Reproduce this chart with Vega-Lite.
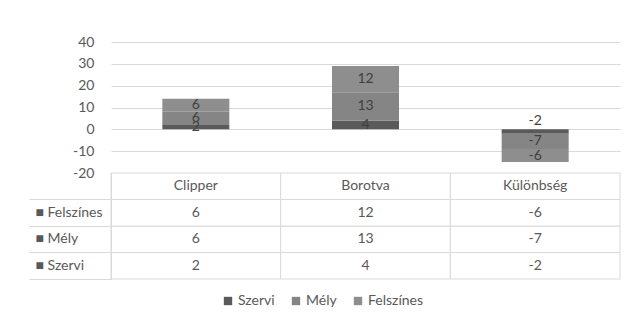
{
  "$schema": "https://vega.github.io/schema/vega-lite/v6.json",
  "background": "white",
  "padding": {"left": 28, "top": 35, "right": 5, "bottom": 5},
  "bounds": "flush",
  "spacing": 0,
  "config": {
    "font": "Lato",
    "view": {"stroke": null},
    "axis": {"labelFont": "Lato", "labelFontSize": 14, "labelColor": "#595959"},
    "legend": {"labelFont": "Lato", "labelFontSize": 14, "labelColor": "#595959"}
  },
  "datasets": {
    "d": [
      {"cat": "Clipper", "series": "Szervi", "k": 1, "value": 2},
      {"cat": "Clipper", "series": "Mély", "k": 2, "value": 6},
      {"cat": "Clipper", "series": "Felszínes", "k": 3, "value": 6},
      {"cat": "Borotva", "series": "Szervi", "k": 1, "value": 4},
      {"cat": "Borotva", "series": "Mély", "k": 2, "value": 13},
      {"cat": "Borotva", "series": "Felszínes", "k": 3, "value": 12},
      {"cat": "Különbség", "series": "Szervi", "k": 1, "value": -2},
      {"cat": "Különbség", "series": "Mély", "k": 2, "value": -7},
      {"cat": "Különbség", "series": "Felszínes", "k": 3, "value": -6}
    ]
  },
  "vconcat": [
    {
      "width": 509,
      "height": 131,
      "data": {"name": "d"},
      "encoding": {
        "x": {"field": "cat", "type": "nominal", "sort": ["Clipper", "Borotva", "Különbség"], "scale": {"paddingInner": 0, "paddingOuter": 0}, "axis": null},
        "order": {"field": "k", "type": "quantitative"}
      },
      "layer": [
        {
          "mark": {"type": "bar", "width": 67},
          "encoding": {
            "y": {"field": "value", "type": "quantitative", "stack": "zero",
                  "scale": {"domain": [-20, 40], "nice": false, "zero": false},
                  "axis": {"values": [-20, -10, 0, 10, 20, 30, 40], "tickCount": 7, "labelOverlap": false, "labelExpr": "'' + datum.value", "title": null, "domain": false, "ticks": false, "labelPadding": 17, "gridColor": "#d9d9d9", "gridWidth": 1}},
            "color": {"field": "series", "type": "nominal",
                      "scale": {"domain": ["Szervi", "Mély", "Felszínes"], "range": ["#5a5a5a", "#858585", "#8e8e8e"]},
                      "legend": {"title": null, "orient": "none", "direction": "horizontal", "legendX": 110, "legendY": 252, "symbolType": "square", "symbolSize": 70, "symbolStrokeWidth": 0, "columnPadding": 14, "labelOffset": 3}}
          }
        },
        {
          "mark": {"type": "text", "font": "Lato", "fontSize": 14, "color": "#404040", "dy": {"expr": "datum.value == -2 ? -11 : 0"}},
          "encoding": {
            "y": {"field": "value", "type": "quantitative", "stack": "zero", "bandPosition": 0.5,
                  "axis": {"values": [-20, -10, 0, 10, 20, 30, 40], "tickCount": 7, "labelOverlap": false, "labelExpr": "'' + datum.value", "title": null, "domain": false, "ticks": false, "labelPadding": 17, "gridColor": "#d9d9d9", "gridWidth": 1}},
            "text": {"field": "value", "type": "nominal"}
          }
        }
      ]
    },
    {
      "width": 509,
      "height": 106,
      "data": {"name": "d"},
      "encoding": {
        "x": {"field": "cat", "type": "nominal", "sort": ["Clipper", "Borotva", "Különbség"], "scale": {"paddingInner": 0, "paddingOuter": 0}, "axis": null}
      },
      "layer": [
        {
          "mark": {"type": "rect", "fill": "white", "stroke": "#d9d9d9", "strokeWidth": 1},
          "encoding": {
            "y": {"field": "series", "type": "nominal",
                  "scale": {"domain": ["hdr", "Felszínes", "Mély", "Szervi"], "paddingInner": 0, "paddingOuter": 0},
                  "axis": {"title": null, "ticks": true, "bandPosition": 1, "tickSize": 82, "tickWidth": 1, "tickColor": "#d9d9d9", "domain": true, "domainColor": "#d9d9d9",
                           "labelAlign": "left", "labelPadding": -6,
                           "labelExpr": "datum.value == 'hdr' ? '' : '■ ' + datum.value"}}
          }
        },
        {
          "transform": [{"filter": "datum.series == 'Szervi'"}],
          "mark": {"type": "rect", "fill": "white", "stroke": "#d9d9d9", "strokeWidth": 1},
          "encoding": {"y": {"datum": "hdr", "type": "nominal"}}
        },
        {
          "transform": [{"filter": "datum.series == 'Szervi'"}],
          "mark": {"type": "text", "font": "Lato", "fontSize": 14, "color": "#595959"},
          "encoding": {"y": {"datum": "hdr", "type": "nominal"}, "text": {"field": "cat"}}
        },
        {
          "mark": {"type": "text", "font": "Lato", "fontSize": 14, "color": "#595959"},
          "encoding": {"y": {"field": "series", "type": "nominal"}, "text": {"field": "value", "type": "nominal"}}
        }
      ]
    }
  ]
}
